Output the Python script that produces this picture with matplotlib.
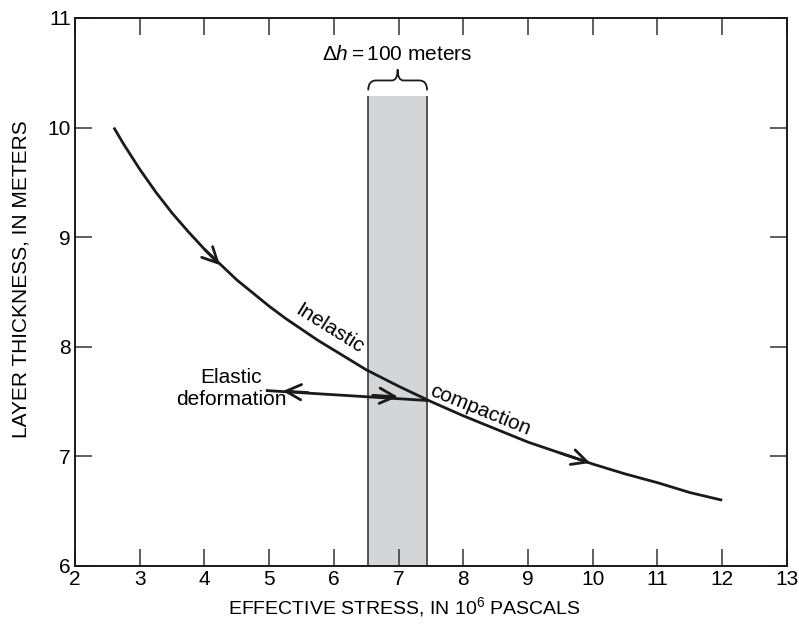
import matplotlib
matplotlib.use("Agg")
import matplotlib.pyplot as plt
from matplotlib.path import Path
from matplotlib.patches import PathPatch

plt.rcParams['font.family'] = ['Liberation Sans', 'DejaVu Sans']
plt.rcParams['mathtext.fontset'] = 'custom'
plt.rcParams['mathtext.rm'] = 'Liberation Sans'
plt.rcParams['mathtext.it'] = 'Liberation Sans:italic'

# compaction curve
stress = [2.6, 2.75, 3.0, 3.25, 3.5, 3.75, 4.0, 4.25, 4.5, 4.75, 5.0, 5.25,
          5.5, 5.75, 6.0, 6.25, 6.5, 7.0, 7.5, 8.0, 8.5, 9.0, 9.5, 10.0,
          10.5, 11.0, 11.5, 12.0]
thickness = [10.0, 9.85, 9.62, 9.41, 9.22, 9.05, 8.89, 8.75, 8.61, 8.49,
             8.37, 8.26, 8.16, 8.06, 7.97, 7.88, 7.79, 7.64, 7.50, 7.37,
             7.25, 7.13, 7.03, 6.93, 6.84, 6.76, 6.67, 6.60]

# shaded stress band and its height
band_x = [6.53, 7.44]
band_top = 10.29

# direction arrows on the curve (tail, tip)
curve_arrows = [((4.0, 8.89), (4.24, 8.745)), ((9.5, 7.03), (9.96, 6.94))]

# elastic deformation line
elastic_x = [4.97, 7.44]
elastic_y = [7.60, 7.51]

xticks = list(range(2, 14))
yticks = list(range(6, 12))

head = '->,head_length=1.1,head_width=0.55'

fig = plt.figure(figsize=(7.99, 6.29), dpi=100)
ax = fig.add_axes([0.0939, 0.1002, 0.891, 0.8712])

ax.fill_between(band_x, 6, band_top, color='#d4d5d7', lw=0, zorder=1)
ax.vlines(band_x, 6, band_top, color='#3a3a3a', lw=1.2, zorder=2)

ax.plot(stress, thickness, color='#1a1a1a', lw=2.0, zorder=3,
        solid_capstyle='butt', solid_joinstyle='round')

for tail, tip in curve_arrows:
    ax.annotate('', xy=tip, xytext=tail,
                arrowprops=dict(arrowstyle=head, color='#1a1a1a', lw=2.0,
                                shrinkA=0, shrinkB=0), zorder=4)

# elastic line with two open heads
ax.plot(elastic_x, elastic_y, color='#1a1a1a', lw=2.0, zorder=3)
ax.annotate('', xy=(5.21, 7.596), xytext=(5.6, 7.582),
            arrowprops=dict(arrowstyle=head, color='#1a1a1a', lw=2.0,
                            shrinkA=0, shrinkB=0), zorder=4)
ax.annotate('', xy=(6.99, 7.543), xytext=(6.6, 7.557),
            arrowprops=dict(arrowstyle=head, color='#1a1a1a', lw=2.0,
                            shrinkA=0, shrinkB=0), zorder=4)

# curly brace above the band
x0, x1 = band_x
xm = (x0 + x1) / 2
yb, yc, yt = 10.34, 10.43, 10.53
verts = [(x0, yb), (x0, yc), (x0 + 0.12, yc),
         (xm - 0.09, yc),
         (xm, yc), (xm, yt),
         (xm, yc), (xm + 0.09, yc),
         (x1 - 0.12, yc),
         (x1, yc), (x1, yb)]
codes = [Path.MOVETO, Path.CURVE3, Path.CURVE3,
         Path.LINETO,
         Path.CURVE3, Path.CURVE3,
         Path.CURVE3, Path.CURVE3,
         Path.LINETO,
         Path.CURVE3, Path.CURVE3]
ax.add_patch(PathPatch(Path(verts, codes), fill=False, lw=1.3,
                       edgecolor='#1a1a1a', clip_on=False, zorder=4))

ax.text(6.98, 10.67, r"$\Delta h = \mathrm{100\ meters}$", ha='center',
        va='center', fontsize=15)
ax.text(5.94, 8.17, 'Inelastic', rotation=-32, ha='center', va='center',
        fontsize=15)
ax.text(8.26, 7.42, 'compaction', rotation=-22, ha='center', va='center',
        fontsize=15)
ax.text(4.41, 7.62, 'Elastic\ndeformation', ha='center', va='center',
        fontsize=15, linespacing=1.15)

ax.set_xlim(2, 13)
ax.set_ylim(6, 11)
ax.set_xticks(xticks)
ax.set_yticks(yticks)
ax.tick_params(direction='in', length=12, width=1.1, labelsize=15,
               top=True, right=True, color='#333333', pad=3)
for s in ax.spines.values():
    s.set_linewidth(1.4)
    s.set_color('#1a1a1a')

ax.set_xlabel(r'EFFECTIVE STRESS, IN 10$^{6}$ PASCALS', fontsize=14,
              va='center')
ax.set_ylabel('LAYER THICKNESS, IN METERS', fontsize=15, va='center')
ax.xaxis.set_label_coords(0.463, -0.075)
ax.yaxis.set_label_coords(-0.076, 0.524)

fig.savefig('out.png', dpi=100)
